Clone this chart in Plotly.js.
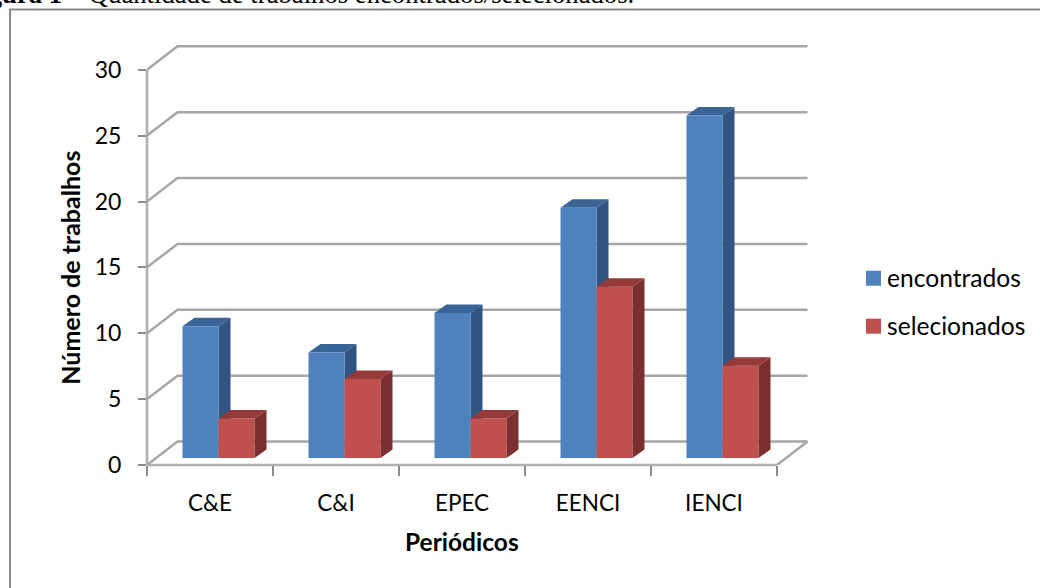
<!DOCTYPE html>
<html>
<head>
<meta charset="utf-8">
<script src="https://cdn.plot.ly/plotly-3.0.1.min.js"></script>
<style>html,body{margin:0;padding:0;background:#fff;overflow:hidden}</style>
</head>
<body>
<div id="chart" style="width:1040px;height:588px"></div>
<script>
// Chart data
const categories = ["C&E", "C&I", "EPEC", "EENCI", "IENCI"];
const encontrados = [10, 8, 11, 19, 26];
const selecionados = [3, 6, 3, 13, 7];
const yTicks = [0, 5, 10, 15, 20, 25, 30];
const seriesNames = ["encontrados", "selecionados"];
const captionBold = "Figura 1";
const captionRest = " – Quantidade de trabalhos encontrados/selecionados.";
const xTitle = "Periódicos";
const yTitle = "Número de trabalhos";

// Plot box in pixels and the scale of both axes
const W = 1040, H = 588;
const L = 147, R = 815, T = 36, B = 465.5;
const PX_PER_CAT = 126, PX_PER_UNIT = 13.19;
const xMax = (R - L) / PX_PER_CAT, yMax = (B - T) / PX_PER_UNIT;

// Oblique offsets of the 3D look, in axis units
const wallDx = 30.5 / PX_PER_CAT, wallDy = 23.5 / PX_PER_UNIT;
const barDx = 12 / PX_PER_CAT, barDy = 8.5 / PX_PER_UNIT;
const barShiftX = 8.5 / PX_PER_CAT, barShiftY = 7 / PX_PER_UNIT;
const barW = 36 / PX_PER_CAT;

const px = x => (x - L) / (R - L);
const py = y => (B - y) / (B - T);

const FONT = "Lato, 'Open Sans', sans-serif";
const BLUE = "#4f81bd", BLUE_TOP = "#3a6396", BLUE_SIDE = "#325480";
const RED = "#c0504d", RED_TOP = "#953a38", RED_SIDE = "#7b302f";
const GRID = "#a6a6a6", AXIS = "#b0b0b0";

const centers = categories.map((_, i) => i + 0.5);

// Back-wall grid lines with their slanted connection to the value axis
const gridX = [], gridY = [];
yTicks.forEach(t => {
  gridX.push(0, wallDx, 5 + wallDx, null);
  gridY.push(t, t + wallDy, t + wallDy, null);
});
gridX.push(5, 5 + wallDx);
gridY.push(0, wallDy);

// Side and top faces for one series, built from its values
function depthFaces(values, slot) {
  const side = {x: [], y: []}, top = {x: [], y: []};
  values.forEach((v, i) => {
    const l = centers[i] - barW + slot * barW, r = l + barW;
    side.x.push(r, r + barDx, r + barDx, r, r, null);
    side.y.push(0, barDy, v + barDy, v, 0, null);
    top.x.push(l, r, r + barDx, l + barDx, l, null);
    top.y.push(v, v, v + barDy, v + barDy, v, null);
  });
  return {side, top};
}
const face = (d, color, xa, ya) => ({
  type: "scatter", mode: "lines", x: d.x, y: d.y, xaxis: xa, yaxis: ya,
  fill: "toself", fillcolor: color, line: {width: 0, color: color},
  hoverinfo: "skip", showlegend: false
});

const blueFaces = depthFaces(encontrados, 0);
const redFaces = depthFaces(selecionados, 1);

const traces = [
  {type: "scatter", mode: "lines", x: gridX, y: gridY, line: {color: GRID, width: 2.5},
   hoverinfo: "skip", showlegend: false},
  face(blueFaces.side, BLUE_SIDE, "x2", "y2"),
  face(blueFaces.top, BLUE_TOP, "x2", "y2"),
  {type: "bar", name: seriesNames[0], x: centers, y: encontrados, xaxis: "x3", yaxis: "y3",
   marker: {color: BLUE}, showlegend: false},
  {type: "bar", name: seriesNames[1], x: centers, y: selecionados, xaxis: "x3", yaxis: "y3",
   marker: {color: RED}, showlegend: false},
  face(redFaces.side, RED_SIDE, "x3", "y3"),
  face(redFaces.top, RED_TOP, "x3", "y3")
];

const hiddenX = {overlaying: "x", range: [-barShiftX, xMax - barShiftX], visible: false, fixedrange: true};
const hiddenY = {overlaying: "y", range: [-barShiftY, yMax - barShiftY], visible: false, fixedrange: true};

const legendColors = [BLUE, RED];
const legendTop = [271, 319];

const paperLine = (x0, y0, x1, y1) => ({
  type: "line", xref: "paper", yref: "paper", x0, y0, x1, y1,
  line: {color: AXIS, width: 2.6}, layer: "below"
});

const shapes = [
  {type: "rect", xref: "paper", yref: "paper", x0: px(10), x1: px(W + 20), y0: py(H + 20), y1: py(9.5),
   line: {color: "#8a8a8a", width: 2}, fillcolor: "rgba(0,0,0,0)", layer: "below"},
  // Value axis and front edge of the floor, left unclipped at the plot border
  paperLine(0, 0, 0, yTicks[yTicks.length - 1] / yMax),
  paperLine(0, 0, categories.length / xMax, 0)
].concat(seriesNames.map((_, i) => ({
  type: "rect", xref: "paper", yref: "paper", x0: px(866), x1: px(881),
  y0: py(legendTop[i] + 15), y1: py(legendTop[i]),
  line: {width: 0}, fillcolor: legendColors[i]
})));

const annotations = [
  {xref: "paper", yref: "paper", x: px(-37.5), y: py(11), xanchor: "left", yanchor: "bottom", showarrow: false,
   text: "<b>" + captionBold + "</b>" + captionRest, align: "left",
   font: {family: "'Liberation Serif', serif", size: 26.7, color: "#000"}},
  {xref: "paper", yref: "paper", x: px(462), y: py(542), xanchor: "center", yanchor: "middle", showarrow: false,
   text: "<b>" + xTitle + "</b>", font: {family: FONT, size: 24.5, color: "#000"}},
  {xref: "paper", yref: "paper", x: px(70), y: py(268), xanchor: "center", yanchor: "middle", showarrow: false,
   text: "<b>" + yTitle + "</b>", textangle: -90, font: {family: FONT, size: 25, color: "#000"}}
].concat(seriesNames.map((name, i) => ({
  xref: "paper", yref: "paper", x: px(885), y: py(legendTop[i] + 7), xanchor: "left", yanchor: "middle",
  showarrow: false, text: name, font: {family: FONT, size: 24.6, color: "#000"}
})));

const layout = {
  width: W, height: H,
  margin: {l: L, r: W - R, t: T, b: H - B, pad: 0},
  paper_bgcolor: "#fff", plot_bgcolor: "rgba(0,0,0,0)",
  showlegend: false,
  barmode: "group", bargap: 1 - 2 * barW, bargroupgap: 0,
  xaxis: {
    range: [0, xMax], showgrid: false, zeroline: false, showline: false, fixedrange: true,
    tickmode: "array", tickvals: centers, ticktext: categories, ticks: "", ticklabelstandoff: 22,
    tickfont: {family: FONT, size: 22.5, color: "#000"},
    minor: {tickmode: "array", tickvals: [0, 1, 2, 3, 4, 5], ticks: "outside", ticklen: 10,
            tickwidth: 2, tickcolor: "#8c8c8c", showgrid: false}
  },
  yaxis: {
    range: [0, yMax], showgrid: false, zeroline: false, showline: false, fixedrange: true,
    tickmode: "array", tickvals: yTicks, ticks: "outside", ticklen: 8, tickwidth: 2, tickcolor: "#8c8c8c",
    ticklabelstandoff: 12, tickfont: {family: FONT, size: 23, color: "#000"}
  },
  xaxis2: hiddenX, yaxis2: hiddenY, xaxis3: hiddenX, yaxis3: hiddenY,
  shapes: shapes, annotations: annotations
};

Plotly.newPlot("chart", traces, layout, {displayModeBar: false, staticPlot: true});
</script>
</body>
</html>
